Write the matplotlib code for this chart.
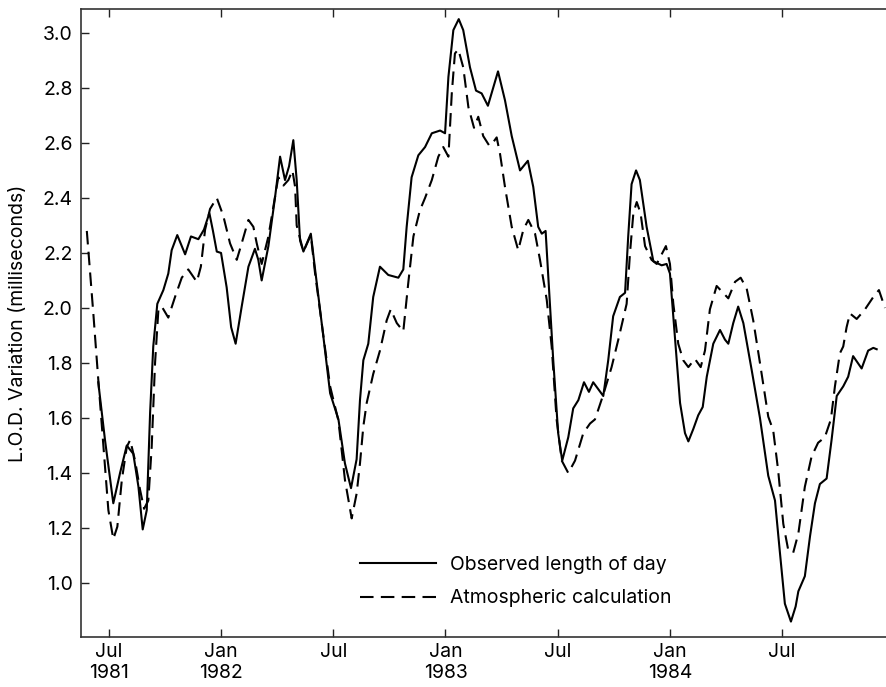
import matplotlib
matplotlib.use("Agg")
import matplotlib.pyplot as plt
import numpy as np

plt.rcParams['font.family'] = ['Inter', 'DejaVu Sans']

# observed length of day (decimal year, ms)
obs_t = [1981.453, 1981.483, 1981.520, 1981.550, 1981.580, 1981.609, 1981.632, 1981.651,
         1981.669, 1981.684, 1981.698, 1981.716, 1981.743, 1981.765, 1981.780, 1981.805,
         1981.840, 1981.866, 1981.899, 1981.924, 1981.948, 1981.964, 1981.981, 1982.000,
         1982.025, 1982.045, 1982.065, 1982.092, 1982.122, 1982.151, 1982.166, 1982.181,
         1982.211, 1982.241, 1982.263, 1982.285, 1982.303, 1982.322, 1982.337, 1982.352,
         1982.367, 1982.400, 1982.419, 1982.456, 1982.486, 1982.523, 1982.552, 1982.579,
         1982.604, 1982.619, 1982.634, 1982.656, 1982.678, 1982.708, 1982.745, 1982.790,
         1982.812, 1982.827, 1982.849, 1982.879, 1982.909, 1982.939, 1982.976, 1982.998,
         1983.013, 1983.035, 1983.059, 1983.079, 1983.109, 1983.136, 1983.161, 1983.189,
         1983.209, 1983.234, 1983.265, 1983.295, 1983.332, 1983.367, 1983.391, 1983.413,
         1983.429, 1983.446, 1983.458, 1983.480, 1983.502, 1983.520, 1983.547, 1983.569,
         1983.592, 1983.617, 1983.639, 1983.658, 1983.703, 1983.725, 1983.747, 1983.777,
         1983.800, 1983.814, 1983.829, 1983.849, 1983.866, 1983.896, 1983.926, 1983.963,
         1983.985, 1984.000, 1984.022, 1984.045, 1984.067, 1984.082, 1984.104, 1984.126,
         1984.146, 1984.164, 1984.193, 1984.223, 1984.245, 1984.260, 1984.282, 1984.304,
         1984.327, 1984.364, 1984.401, 1984.438, 1984.468, 1984.490, 1984.512, 1984.539,
         1984.560, 1984.572, 1984.601, 1984.624, 1984.646, 1984.668, 1984.698, 1984.720,
         1984.743, 1984.772, 1984.794, 1984.816, 1984.854, 1984.883, 1984.906, 1984.921]
obs_v = [1.73, 1.52, 1.29, 1.40, 1.50, 1.47, 1.35, 1.195,
         1.265, 1.62, 1.86, 2.015, 2.065, 2.125, 2.21, 2.265,
         2.195, 2.26, 2.25, 2.285, 2.345, 2.28, 2.205, 2.20,
         2.075, 1.93, 1.87, 2.005, 2.15, 2.215, 2.175, 2.10,
         2.225, 2.405, 2.55, 2.465, 2.515, 2.61, 2.465, 2.245,
         2.205, 2.27, 2.14, 1.895, 1.69, 1.595, 1.435, 1.345,
         1.45, 1.665, 1.81, 1.87, 2.04, 2.15, 2.12, 2.11,
         2.14, 2.295, 2.475, 2.555, 2.585, 2.635, 2.645, 2.635,
         2.84, 3.01, 3.05, 3.01, 2.875, 2.79, 2.78, 2.735,
         2.79, 2.86, 2.755, 2.625, 2.50, 2.535, 2.44, 2.295,
         2.27, 2.28, 2.115, 1.81, 1.545, 1.445, 1.53, 1.635,
         1.665, 1.73, 1.695, 1.73, 1.68, 1.81, 1.97, 2.04,
         2.055, 2.26, 2.45, 2.50, 2.465, 2.295, 2.17, 2.155,
         2.16, 2.125, 1.895, 1.655, 1.545, 1.515, 1.56, 1.61,
         1.64, 1.75, 1.87, 1.92, 1.885, 1.87, 1.945, 2.005,
         1.945, 1.775, 1.60, 1.39, 1.30, 1.11, 0.925, 0.86,
         0.915, 0.97, 1.025, 1.17, 1.29, 1.36, 1.38, 1.52,
         1.68, 1.715, 1.75, 1.825, 1.78, 1.845, 1.855, 1.85]

# atmospheric calculation (decimal year, ms)
atm_t = [1981.402, 1981.417, 1981.431, 1981.453, 1981.476, 1981.498, 1981.520, 1981.538,
         1981.558, 1981.580, 1981.595, 1981.617, 1981.639, 1981.657, 1981.676, 1981.691,
         1981.706, 1981.721, 1981.736, 1981.765, 1981.795, 1981.825, 1981.854, 1981.892,
         1981.910, 1981.929, 1981.951, 1981.981, 1982.010, 1982.040, 1982.070, 1982.092,
         1982.122, 1982.144, 1982.159, 1982.181, 1982.211, 1982.241, 1982.255, 1982.278,
         1982.300, 1982.318, 1982.330, 1982.337, 1982.367, 1982.400, 1982.419, 1982.456,
         1982.486, 1982.523, 1982.552, 1982.582, 1982.604, 1982.619, 1982.634, 1982.649,
         1982.678, 1982.708, 1982.738, 1982.756, 1982.783, 1982.812, 1982.834, 1982.857,
         1982.886, 1982.909, 1982.939, 1982.968, 1982.990, 1983.013, 1983.028, 1983.042,
         1983.057, 1983.079, 1983.102, 1983.127, 1983.146, 1983.168, 1983.195, 1983.206,
         1983.228, 1983.243, 1983.265, 1983.295, 1983.324, 1983.347, 1983.369, 1983.399,
         1983.421, 1983.451, 1983.473, 1983.495, 1983.518, 1983.547, 1983.577, 1983.614,
         1983.644, 1983.666, 1983.703, 1983.740, 1983.770, 1983.807, 1983.822, 1983.837,
         1983.852, 1983.869, 1983.889, 1983.918, 1983.941, 1983.963, 1983.982, 1984.000,
         1984.015, 1984.037, 1984.059, 1984.082, 1984.111, 1984.137, 1984.156, 1984.178,
         1984.208, 1984.237, 1984.260, 1984.290, 1984.315, 1984.342, 1984.371, 1984.401,
         1984.438, 1984.460, 1984.482, 1984.505, 1984.527, 1984.549, 1984.572, 1984.601,
         1984.631, 1984.660, 1984.690, 1984.717, 1984.735, 1984.757, 1984.772, 1984.787,
         1984.802, 1984.832, 1984.869, 1984.906, 1984.931, 1984.958]
atm_v = [2.28, 2.125, 1.98, 1.74, 1.495, 1.265, 1.16, 1.205,
         1.375, 1.495, 1.52, 1.445, 1.34, 1.27, 1.30, 1.495,
         1.80, 1.995, 2.005, 1.965, 2.04, 2.11, 2.14, 2.095,
         2.15, 2.285, 2.36, 2.40, 2.335, 2.235, 2.175, 2.235,
         2.32, 2.295, 2.235, 2.16, 2.26, 2.405, 2.475, 2.445,
         2.465, 2.50, 2.44, 2.30, 2.205, 2.265, 2.125, 1.90,
         1.715, 1.59, 1.375, 1.235, 1.325, 1.435, 1.57, 1.655,
         1.76, 1.845, 1.955, 1.995, 1.945, 1.915, 2.09, 2.26,
         2.355, 2.40, 2.465, 2.55, 2.585, 2.55, 2.78, 2.925,
         2.94, 2.875, 2.73, 2.655, 2.695, 2.625, 2.59, 2.595,
         2.62, 2.56, 2.44, 2.295, 2.21, 2.285, 2.32, 2.27,
         2.175, 2.03, 1.86, 1.595, 1.445, 1.40, 1.445, 1.545,
         1.58, 1.595, 1.685, 1.785, 1.885, 2.015, 2.20, 2.345,
         2.385, 2.345, 2.225, 2.175, 2.16, 2.195, 2.225, 2.16,
         2.015, 1.87, 1.81, 1.785, 1.815, 1.785, 1.845, 1.995,
         2.08, 2.055, 2.035, 2.095, 2.11, 2.07, 1.955, 1.80,
         1.605, 1.555, 1.41, 1.215, 1.12, 1.11, 1.18, 1.35,
         1.46, 1.51, 1.53, 1.595, 1.715, 1.835, 1.86, 1.93,
         1.98, 1.96, 1.995, 2.04, 2.065, 2.00]

tick_pos = [1981.5, 1982.0, 1982.5, 1983.0, 1983.5, 1984.0, 1984.5]
tick_lab = ["Jul\n1981", "Jan\n1982", "Jul", "Jan\n1983", "Jul", "Jan\n1984", "Jul"]

fig = plt.figure(figsize=(8.87, 6.87), dpi=100)
ax = fig.add_axes([0.0913, 0.0728, 0.9087, 0.9142])

ax.plot(obs_t, obs_v, color='black', lw=1.5, solid_joinstyle='round',
        label="Observed length of day")
ax.plot(atm_t, atm_v, color='black', lw=1.5, dashes=(6.5, 3.5),
        dash_joinstyle='round', label="Atmospheric calculation")

ax.set_xlim(1981.376, 1984.967)
ax.set_ylim(0.804, 3.087)
ax.set_yticks([1.0, 1.2, 1.4, 1.6, 1.8, 2.0, 2.2, 2.4, 2.6, 2.8, 3.0])
ax.set_xticks(tick_pos)
ax.set_xticklabels(tick_lab)
ax.tick_params(axis='both', direction='in', length=6, width=1, labelsize=14,
               colors='#222222', labelcolor='black')
ax.tick_params(axis='x', top=True, pad=4.5)
ax.tick_params(axis='y', pad=6)
ax.set_ylabel("L.O.D. Variation (milliseconds)", fontsize=14)
ax.yaxis.set_label_coords(-0.067, 0.5)

for s in ['left', 'top', 'bottom']:
    ax.spines[s].set_linewidth(1.2)
    ax.spines[s].set_color('#333333')
ax.spines['right'].set_visible(False)

ax.legend(loc='lower left', bbox_to_anchor=(0.346, 0.047), frameon=False,
          fontsize=14, handlelength=3.9, handletextpad=0.75, labelspacing=0.8,
          borderpad=0, borderaxespad=0)

fig.savefig("out.png", dpi=100)
